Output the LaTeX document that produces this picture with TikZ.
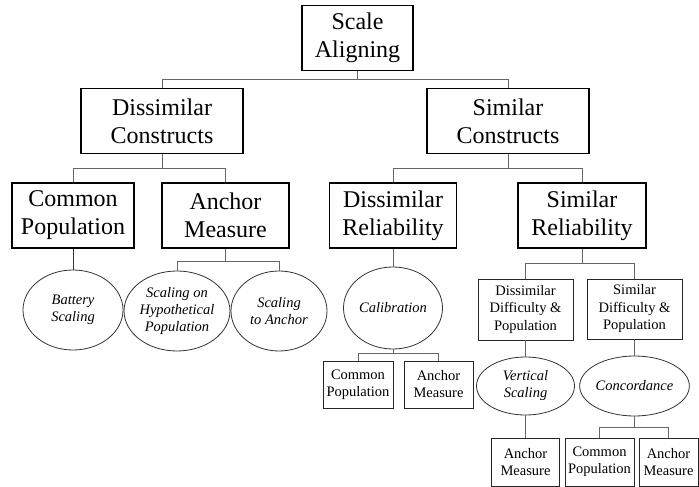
\documentclass[tikz,border=0pt]{standalone}
\usepackage{fontspec}
\setmainfont{Liberation Serif}
\usepackage{tikz}
\usetikzlibrary{arrows.meta}
\usetikzlibrary{calc}
\usetikzlibrary{shapes.geometric}

\begin{document}
\begin{tikzpicture}[x=1pt, y=-1pt,
        big_box_style/.style={rectangle,draw=black,line width=1.3pt,minimum height=65pt,inner sep=1pt,align=center,font=\fontsize{24}{28}\selectfont},
        mid_box_style/.style={rectangle,draw=black!85,line width=0.9pt,minimum width=95pt,minimum height=60pt,inner sep=1pt,align=center,font=\fontsize{14.5}{17.5}\selectfont},
        leaf_box_style/.style={rectangle,draw=black!85,line width=0.9pt,minimum height=47pt,inner sep=1pt,align=center,font=\fontsize{14.5}{17}\selectfont},
        method_style/.style={ellipse,draw=black!80,line width=0.8pt,inner sep=0pt,align=center,font=\fontsize{14.5}{17}\selectfont\itshape},
        edge_style/.style={draw=black!60, line width=0.9pt}]

        \useasboundingbox (0,0) rectangle (699,487);

        \node [big_box_style,minimum width=111pt](sa) at (357.5,38) {Scale\\Aligning};

        \node [big_box_style,minimum width=162pt](dc) at (162,121) {Dissimilar\\Constructs};

        \node [big_box_style,minimum width=162pt](sc) at (508,121) {Similar\\Constructs};

        \node [big_box_style,minimum width=122pt](cp) at (73,215.5) {Common\\Population};

        \node [big_box_style,minimum width=127pt](am) at (225.5,215.5) {Anchor\\Measure};

        \node [big_box_style,minimum width=127pt](dr) at (393,215.5) {Dissimilar\\Reliability};

        \node [big_box_style,minimum width=128pt](sr) at (582,215.5) {Similar\\Reliability};

        \node [method_style,minimum width=100pt,minimum height=80pt](bs) at (73,310) {Battery\\Scaling};

        \node [method_style,minimum width=100pt,minimum height=80pt](shp) at (177,311) {Scaling on\\Hypothetical\\Population};

        \node [method_style,minimum width=96pt,minimum height=80pt](sta) at (279,311) {Scaling\\to Anchor};

        \node [method_style,minimum width=99pt,minimum height=82pt](cal) at (393,308) {Calibration};

        \node [leaf_box_style,minimum width=70pt](cal_cp) at (358,384.5) {Common\\Population};

        \node [leaf_box_style,minimum width=69pt](cal_am) at (438.5,384.5) {Anchor\\Measure};

        \node [mid_box_style,minimum height=61pt](ddp) at (525.5,309.5) {Dissimilar\\Difficulty \&\\Population};

        \node [mid_box_style](sdp) at (634.5,309) {Similar\\Difficulty \&\\Population};

        \node [method_style,minimum width=98pt,minimum height=58pt](vs) at (525.5,386) {Vertical\\Scaling};

        \node [method_style,minimum width=89pt,minimum height=60pt](con) at (634.5,386) {Concordance};

        \node [leaf_box_style,minimum width=68pt,minimum height=48pt](vs_am) at (525.5,462) {Anchor\\Measure};

        \node [leaf_box_style,minimum width=69pt,minimum height=48pt](con_cp) at (599.5,462) {Common\\Population};

        \node [leaf_box_style,minimum width=59pt,minimum height=48pt](con_am) at (668.5,462) {Anchor\\Measure};

        \coordinate (sa_bar) at (357.5,79);
        \coordinate (dc_bar) at (162,168);
        \coordinate (sc_bar) at (508,168);
        \coordinate (am_bar) at (225.5,261);
        \coordinate (sr_bar) at (582,263);
        \coordinate (cal_bar) at (393,353);
        \coordinate (con_bar) at (634.5,427);

        \draw [edge_style] (sa) -- (sa_bar) -| (dc);
        \draw [edge_style] (sa_bar) -| (sc);

        \draw [edge_style] (dc) -- (dc_bar) -| (cp);
        \draw [edge_style] (dc_bar) -| (am);

        \draw [edge_style] (sc) -- (sc_bar) -| (dr);
        \draw [edge_style] (sc_bar) -| (sr);

        \draw [edge_style, draw=black!80] (cp) -- (bs);

        \draw [edge_style] (am) -- (am_bar) -| (shp);
        \draw [edge_style] (am_bar) -| (sta);

        \draw [edge_style] (dr) -- (cal);

        \draw [edge_style] (cal) -- (cal_bar) -| (cal_cp);
        \draw [edge_style] (cal_bar) -| (cal_am);

        \draw [edge_style] (sr) -- (sr_bar) -| (ddp);
        \draw [edge_style] (sr_bar) -| (sdp);

        \draw [edge_style] (ddp) -- (vs);
        \draw [edge_style] (vs) -- (vs_am);

        \draw [edge_style] (sdp) -- (con);

        \draw [edge_style] (con) -- (con_bar) -| (con_cp);
        \draw [edge_style] (con_bar) -| (con_am);

        \end{tikzpicture}
\end{document}
